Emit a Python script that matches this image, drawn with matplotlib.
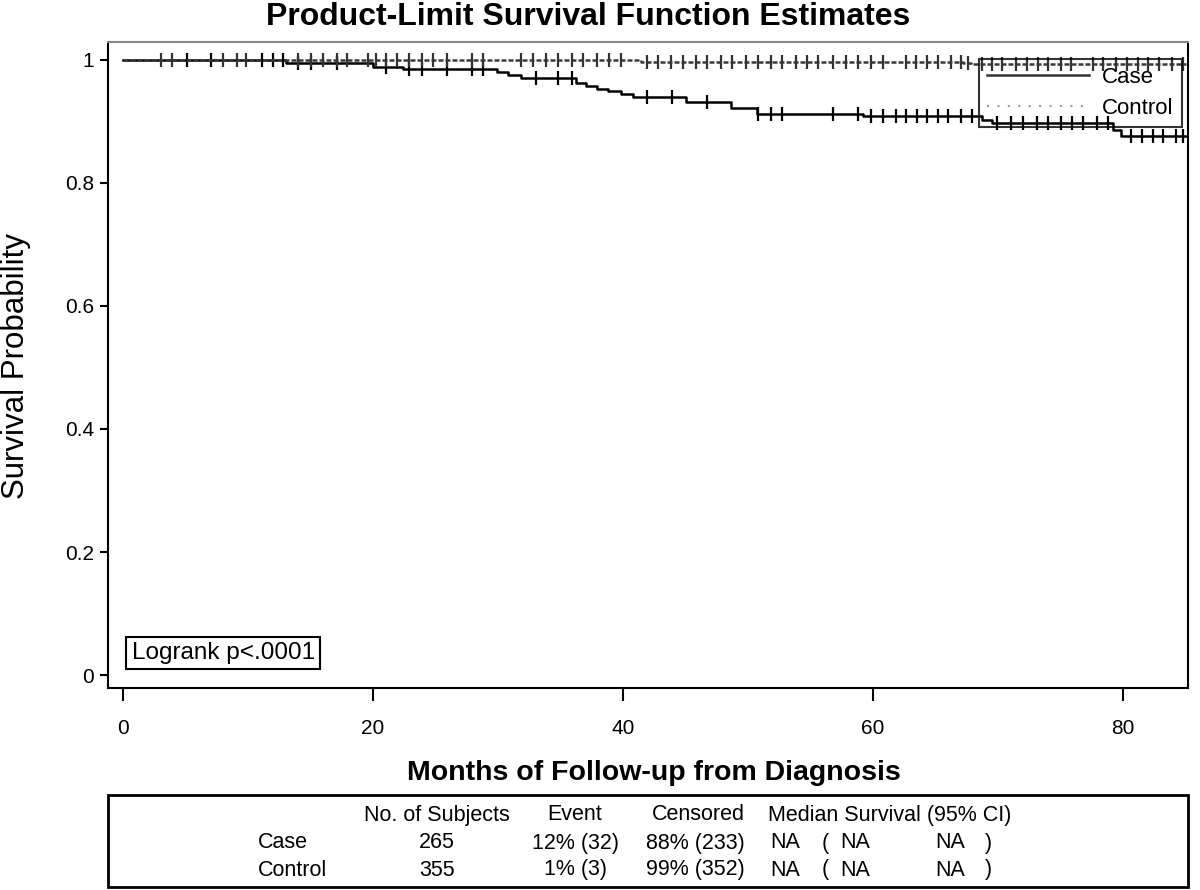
import numpy as np
import matplotlib
matplotlib.use('Agg')
import matplotlib.pyplot as plt
from matplotlib.lines import Line2D
from matplotlib.patches import Rectangle

plt.rcParams['font.family'] = ['Liberation Sans', 'DejaVu Sans']

# event times (months) and the survival estimate after each step
case_event_t = [13.0, 20.0, 22.4, 29.9, 30.8, 31.8, 36.2, 37.0, 37.9, 38.8, 39.8, 40.8,
                45.0, 48.6, 50.7, 59.2, 68.7, 69.5, 79.2, 79.8]
case_surv = [0.995, 0.989, 0.985, 0.980, 0.975, 0.970, 0.962, 0.957, 0.953, 0.949, 0.944, 0.939,
             0.932, 0.921, 0.912, 0.908, 0.902, 0.897, 0.886, 0.876]
control_event_t = [41.4, 67.2, 67.8]
control_surv = [0.997, 0.995, 0.993]
max_follow = 85.0

# censored observations (months)
case_cens = [5.1, 7.0, 11.1, 12.0, 12.8, 14.0, 15.0, 17.1, 21.0, 22.9, 23.9, 25.9, 27.9, 28.8,
             33.0, 34.8, 35.9, 41.9, 43.9, 46.7, 50.8, 51.8, 52.7, 56.8, 58.8, 59.8, 60.8, 61.8,
             62.6, 63.5, 64.3, 65.2, 66.0, 67.0, 67.9, 69.9, 71.0, 72.0, 73.1, 74.0, 75.0, 75.9,
             76.8, 77.9, 78.8, 80.6, 81.5, 82.4, 83.2, 84.2, 84.8]
control_cens = [3.0, 3.9, 8.0, 9.1, 9.8, 14.0, 15.0, 16.0, 17.1, 17.9, 19.6, 20.2, 21.0, 21.9,
                22.9, 23.9, 24.8, 25.9, 27.9, 28.8, 31.8, 32.8, 33.8, 34.8, 35.9, 36.8, 37.9,
                38.9, 39.8, 41.9, 42.8, 43.8, 44.8, 45.8, 46.7, 47.8, 48.7, 49.8, 50.8, 51.8,
                52.7, 53.8, 54.7, 55.6, 56.8, 57.8, 58.8, 59.8, 60.8, 62.6, 63.4, 64.3, 65.2,
                66.2, 67.0, 67.6, 68.7, 69.5, 70.3, 71.4, 72.3, 73.2, 74.0, 75.0, 75.8, 77.6,
                78.4, 79.4, 80.3, 81.2, 82.0, 82.9, 83.9, 84.8]

# summary table
groups = ['Case', 'Control']
n_subjects = ['265', '355']
events = ['12% (32)', '1% (3)']
censored = ['88% (233)', '99% (352)']
median = ['NA', 'NA']
lcl = ['NA', 'NA']
ucl = ['NA', 'NA']


def km_curve(ev_t, ev_s, t_end):
    t = np.concatenate([[0.0], ev_t, [t_end]])
    s = np.concatenate([[1.0], ev_s, [ev_s[-1]]])
    return t, s


def surv_at(ev_t, ev_s, times):
    s = np.concatenate([[1.0], ev_s])
    idx = np.searchsorted(ev_t, times, side='right')
    return s[idx]


fig = plt.figure(figsize=(12, 8.9), dpi=100)
ax = fig.add_axes([108/1200, 1-688/890, 1080/1200, 646/890])

t, s = km_curve(case_event_t, case_surv, max_follow)
ax.step(t, s, where='post', color='black', lw=1.8)
ax.plot(case_cens, surv_at(case_event_t, case_surv, case_cens), ls='none',
        marker='|', ms=10, mew=1.6, color='black')

t, s = km_curve(control_event_t, control_surv, max_follow)
ax.step(t, s, where='post', color='#3a3a3a', lw=1.8, ls=(0, (2, 0.8)))
ax.plot(control_cens, surv_at(control_event_t, control_surv, control_cens), ls='none',
        marker='|', ms=10, mew=1.6, color='#333333')

ax.set_xlim(-1.2, 85.2)
ax.set_ylim(-0.021, 1.029)
ax.set_xticks([0, 20, 40, 60, 80])
ax.set_yticks([0, 0.2, 0.4, 0.6, 0.8, 1.0])
ax.set_yticklabels(['0', '0.2', '0.4', '0.6', '0.8', '1'])
ax.tick_params(axis='x', length=9, width=1.5, pad=13, labelsize=15)
ax.tick_params(axis='y', length=6, width=1.5, pad=4, labelsize=15)
for sp in ax.spines.values():
    sp.set_linewidth(1.5)
ax.spines['top'].set_color('#888888')

handles = [Line2D([], [], color='#333333', lw=1.8),
           Line2D([], [], color='#999999', lw=1.5, ls=(0, (1, 4)))]
leg = ax.legend(handles, groups, loc='upper right', bbox_to_anchor=(0.994, 0.973),
                fontsize=16, handlelength=4.6, handletextpad=0.6, labelspacing=0.45,
                borderpad=0.35, fancybox=False, edgecolor='black', facecolor='none',
                borderaxespad=0)
leg.get_frame().set_linewidth(1.5)

ax.text(0.022, 0.037, 'Logrank p<.0001', transform=ax.transAxes, fontsize=17.5,
        va='bottom', ha='left',
        bbox=dict(boxstyle='square,pad=0.22', fc='white', ec='black', lw=1.5))

fig.text(0.49, 1-17/890, 'Product-Limit Survival Function Estimates', fontsize=23,
         fontweight='bold', ha='center', va='center')
fig.text(654/1200, 1-773/890, 'Months of Follow-up from Diagnosis', fontsize=20.5,
         fontweight='bold', ha='center', va='center')
fig.text(16/1200, 1-366/890, 'Survival Probability', fontsize=22.5, rotation=90,
         ha='center', va='center')

# summary table under the plot
fig.add_artist(Rectangle((108/1200, 1-887/890), 1080/1200, 92/890, fill=False,
                         lw=2, ec='black', transform=fig.transFigure))
hy = 1-815/890
fs = 15.5
fig.text(437/1200, hy, 'No. of Subjects', fontsize=fs, ha='center', va='center')
fig.text(575/1200, hy, 'Event', fontsize=fs, ha='center', va='center')
fig.text(698/1200, hy, 'Censored', fontsize=fs, ha='center', va='center')
fig.text(768/1200, hy, 'Median Survival (95% CI)', fontsize=fs, ha='left', va='center')
row_y = [1-843/890, 1-870/890]
for i, g in enumerate(groups):
    y = row_y[i]
    fig.text(258/1200, y, g, fontsize=fs, ha='left', va='center')
    fig.text(437/1200, y, n_subjects[i], fontsize=fs, ha='center', va='center')
    fig.text(575/1200, y, events[i], fontsize=fs, ha='center', va='center')
    fig.text(695/1200, y, censored[i], fontsize=fs, ha='center', va='center')
    fig.text(770/1200, y, median[i], fontsize=fs, ha='left', va='center')
    fig.text(822/1200, y, '(', fontsize=fs, ha='left', va='center')
    fig.text(840/1200, y, lcl[i], fontsize=fs, ha='left', va='center')
    fig.text(935/1200, y, ucl[i], fontsize=fs, ha='left', va='center')
    fig.text(985/1200, y, ')', fontsize=fs, ha='left', va='center')

fig.savefig('out.png', dpi=100)
